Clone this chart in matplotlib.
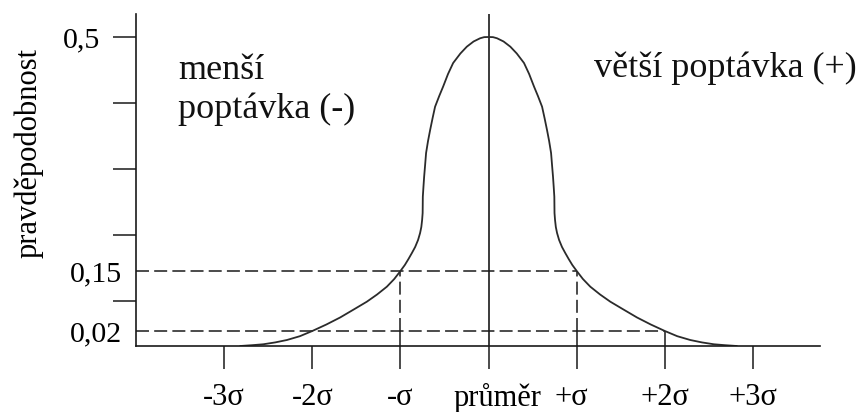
import numpy as np
import matplotlib
matplotlib.use("Agg")
import matplotlib.pyplot as plt
from matplotlib.transforms import ScaledTranslation

plt.rcParams["font.family"] = ["Liberation Serif", "DejaVu Serif"]

# Demand distribution curve: position in standard deviations vs. probability
curve_sigma = [-2.817, -2.68, -2.556, -2.42, -2.288, -2.14, -2.0, -1.84, -1.684, -1.53,
               -1.381, -1.265, -1.154, -1.07, -1.0, -0.95, -0.909, -0.87, -0.833, -0.80,
               -0.777, -0.763, -0.754, -0.748, -0.747, -0.746, -0.739, -0.731, -0.72, -0.709,
               -0.687, -0.663, -0.635, -0.607, -0.56, -0.516, -0.46, -0.402, -0.32, -0.247,
               -0.17, -0.096, -0.05, 0.0,
               0.05, 0.096, 0.17, 0.247, 0.32, 0.402, 0.46, 0.516, 0.56, 0.607,
               0.635, 0.663, 0.687, 0.709, 0.72, 0.731, 0.739, 0.746, 0.747, 0.748,
               0.754, 0.763, 0.777, 0.80, 0.833, 0.87, 0.909, 0.95, 1.0, 1.07,
               1.154, 1.265, 1.381, 1.53, 1.684, 1.84, 2.0, 2.14, 2.288, 2.42,
               2.556, 2.68, 2.817]
curve_prob = [0.0, 0.0011, 0.0023, 0.0048, 0.008, 0.0131, 0.02, 0.0341, 0.0493, 0.0666,
              0.0835, 0.0991, 0.116, 0.1327, 0.15, 0.159, 0.1679, 0.1769, 0.1859, 0.1964,
              0.2068, 0.2158, 0.2263, 0.2367, 0.2487, 0.2611, 0.2756, 0.291, 0.3085, 0.3265,
              0.3444, 0.3609, 0.3788, 0.3957, 0.4117, 0.4257, 0.4447, 0.4611, 0.4753, 0.4855,
              0.4933, 0.4981, 0.4998, 0.5,
              0.4998, 0.4981, 0.4933, 0.4855, 0.4753, 0.4611, 0.4447, 0.4257, 0.4117, 0.3957,
              0.3788, 0.3609, 0.3444, 0.3265, 0.3085, 0.291, 0.2756, 0.2611, 0.2487, 0.2367,
              0.2263, 0.2158, 0.2068, 0.1964, 0.1859, 0.1769, 0.1679, 0.159, 0.15, 0.1327,
              0.116, 0.0991, 0.0835, 0.0666, 0.0493, 0.0341, 0.02, 0.0131, 0.008, 0.0048,
              0.0023, 0.0011, 0.0]

# x axis
x_ticks = [-3, -2, -1, 0, 1, 2, 3]
x_labels = ["-3σ", "-2σ", "-σ", "průměr", "+σ", "+2σ", "+3σ"]

# marked probability levels and where their guide lines end
level_values = [0.15, 0.02]
level_labels = ["0,15", "0,02"]
level_ends = [1, 2]
peak_value = 0.5
peak_label = "0,5"

y_title = "pravděpodobnost"
left_text = "menší\npoptávka (-)"
right_text = "větší poptávka (+)"

# schematic (non-linear) probability axis: piecewise linear between anchors
prob_anchor = np.array([0.0, 0.02, 0.15, 0.5, 1.0])
height_anchor = np.array([0.0, 15.0, 75.0, 309.0, 643.3])


def forward(p):
    return np.interp(p, prob_anchor, height_anchor)


def inverse(h):
    return np.interp(h, height_anchor, prob_anchor)


fig = plt.figure(figsize=(8.62, 4.12), dpi=100)
ax = fig.add_axes([136 / 862, 66 / 412, 684 / 862, 332 / 412])
ax.set_yscale("function", functions=(forward, inverse))
ax.set_xlim(-4.0, 3.76)
ax.set_ylim(0.0, float(inverse(332.0)))

ink = "#1a1a1a"
line_kw = dict(color=ink, lw=1.1)
dash = (0, (8.5, 3.4))

# guide lines for the marked levels
for val, end in zip(level_values, level_ends):
    ax.plot([-4.0, end], [val, val], linestyle=dash, **line_kw)
for s in (-1, 1):
    ax.plot([s, s], [level_values[1], level_values[0]], linestyle=dash, **line_kw)
ax.vlines([-1, 1, 2], 0, level_values[1], colors=ink, lw=1.1)

# mean line
ax.axvline(0, color=ink, lw=1.2)

# distribution curve
ax.plot(curve_sigma, curve_prob, color="#2b2b2b", lw=1.3, solid_joinstyle="round",
        solid_capstyle="round")

for side in ("top", "right"):
    ax.spines[side].set_visible(False)
for side in ("left", "bottom"):
    ax.spines[side].set_linewidth(1.2)
    ax.spines[side].set_color(ink)

fs = 22
ax.set_xticks(x_ticks)
ax.set_xticklabels(x_labels)
ax.tick_params(axis="x", direction="out", length=16.3, width=1.1, color=ink,
               pad=10.5, labelsize=fs)

blank_heights = [45.0, 111.0, 177.0, 243.0]
ax.set_yticks(list(inverse(np.array(blank_heights))) + [peak_value])
ax.set_yticklabels([""] * len(blank_heights) + [peak_label])
ax.set_yticks(level_values, minor=True)
ax.set_yticklabels(level_labels, minor=True)
ax.tick_params(axis="y", which="major", direction="out", length=16.5, width=1.1,
               color=ink, pad=9.4, labelsize=21.5)
ax.tick_params(axis="y", which="minor", length=0, pad=10, labelsize=21.5)

# nudge the crowded labels around the mean
shifts = {"průměr": 9, "+σ": -5}
for lab in ax.get_xticklabels():
    dx = shifts.get(lab.get_text(), 0)
    if dx:
        lab.set_transform(lab.get_transform() + ScaledTranslation(dx / 100, 0, fig.dpi_scale_trans))

ax.set_ylabel(y_title, fontsize=fs)
ax.yaxis.set_label_coords(-0.1355, 0.581)

ax.text(0.0614, 0.687, left_text, transform=ax.transAxes, fontsize=26,
        va="baseline", ha="left", linespacing=1.2, color="#111111")
ax.text(0.6696, 0.810, right_text, transform=ax.transAxes, fontsize=26,
        va="baseline", ha="left", color="#111111")

fig.savefig("out.png", dpi=100)
